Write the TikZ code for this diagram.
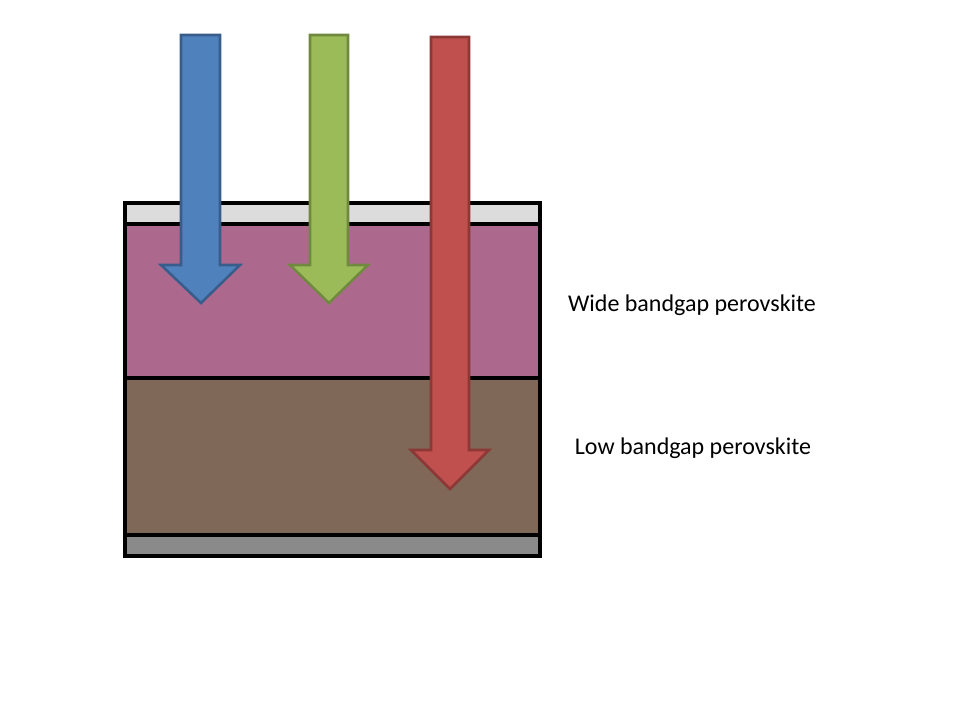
\documentclass[tikz,border=0pt]{standalone}
\usepackage{fontspec}
\setmainfont{Carlito}
\usepackage{tikz}
\usetikzlibrary{patterns}

\definecolor{rayblue}{HTML}{4F81BD}
\definecolor{rayblueedge}{HTML}{385D8A}
\definecolor{raygreen}{HTML}{9BBB59}
\definecolor{raygreenedge}{HTML}{71893F}
\definecolor{rayred}{HTML}{C0504D}
\definecolor{rayrededge}{HTML}{8C3836}
\definecolor{widegap}{HTML}{AD688E}
\definecolor{lowgap}{HTML}{7F6858}
\definecolor{topcontact}{HTML}{DCDCDC}
\definecolor{backcontact}{HTML}{8A8A8A}

\begin{document}
\begin{tikzpicture}[x=0.75pt,y=-0.75pt,
    layer/.style={draw=black,line width=2.6pt},
    ray/.style={line width=1.9pt,line join=miter},
    label/.style={font=\fontsize{18}{22}\selectfont,inner sep=0pt}]
 				\useasboundingbox (0,0) rectangle (960,720);

 				% stack of layers
 				\filldraw[layer,fill=topcontact] (125,203) rectangle (540,224);
 				\filldraw[layer,fill=widegap] (125,224) rectangle (540,378);
 				\filldraw[layer,fill=lowgap] (125,378) rectangle (540,535);
 				\filldraw[layer,fill=backcontact] (125,535) rectangle (540,556);

 				% light coming in
 				\filldraw[ray,fill=rayblue,draw=rayblueedge] (181,35) -- (220,35) -- (220,265) -- (240,265) -- (201,303) -- (161,265) -- (181,265) -- cycle;
 				\filldraw[ray,fill=raygreen,draw=raygreenedge] (310,35) -- (348,35) -- (348,265) -- (368,265) -- (329,303) -- (290,265) -- (310,265) -- cycle;
 				\filldraw[ray,fill=rayred,draw=rayrededge] (431,37) -- (469,37) -- (469,450) -- (489,450) -- (450,489) -- (411,450) -- (431,450) -- cycle;

 				\node[label] (wide) at (692,305) {Wide bandgap perovskite};
 				\node[label] (low) at (693,448) {Low bandgap perovskite};
			\end{tikzpicture}
\end{document}
